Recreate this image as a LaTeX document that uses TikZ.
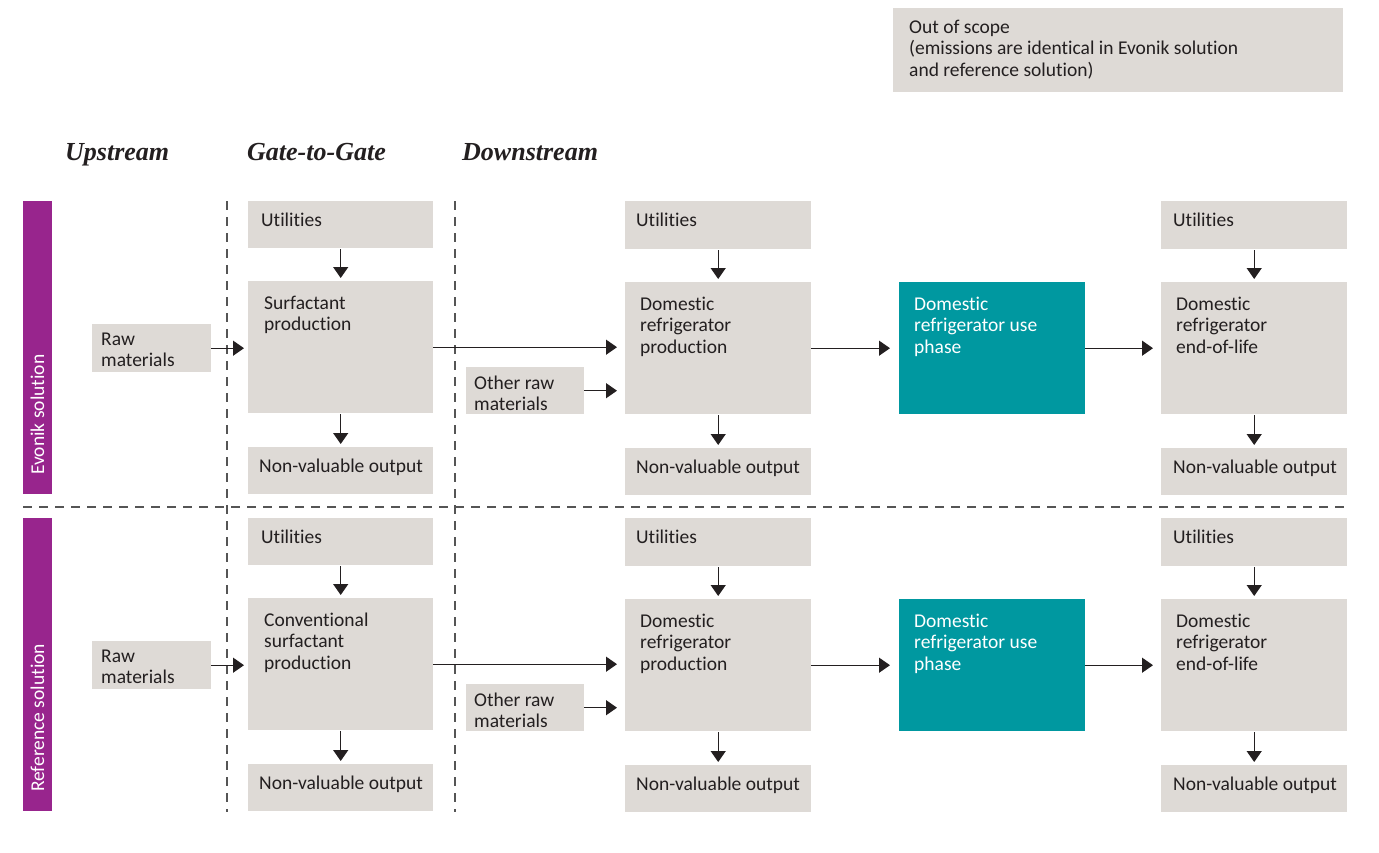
\documentclass[tikz,border=0pt]{standalone}
\usepackage{fontspec}
\setmainfont{Carlito}[Ligatures={CommonOff,ContextualOff,RequiredOff}, RawFeature={-liga;-clig;-rlig;-calt;-dlig}]
\newfontfamily\headfont{Liberation Serif}
\usetikzlibrary{arrows.meta}
\definecolor{boxgrey}{RGB}{222,218,214}
\definecolor{tealc}{RGB}{0,152,160}
\definecolor{purplec}{RGB}{152,37,141}
\definecolor{textc}{RGB}{35,31,32}
\definecolor{dashc}{RGB}{85,85,85}
\newcommand\bt[5]{\begin{minipage}[t][#2pt][t]{#1pt}\raggedright\leftskip=#3pt\relax\rule{0pt}{#4pt}#5\end{minipage}}
\tikzset{
  gbox/.style={fill=boxgrey, inner sep=0pt, anchor=north west, text=textc, font=\fontsize{19.5}{21.5}\selectfont},
  tbox/.style={fill=tealc, inner sep=0pt, anchor=north west, text=white, font=\fontsize{19.5}{21.5}\selectfont},
  bar/.style={fill=purplec, draw=none},
  barlabel/.style={rotate=90, anchor=west, inner sep=0pt, text=white, font=\fontsize{19.5}{21.5}\selectfont},
  arr/.style={draw=textc, line width=1.2pt, -{Triangle[length=11pt,width=15pt]}},
  sepline/.style={draw=dashc, line width=1.2pt, dash pattern=on 9pt off 7pt},
  head/.style={anchor=base west, inner sep=0pt, text=textc, font=\fontsize{26}{30}\headfont\bfseries\itshape}
}
\newcommand\drawrow[4]{%
  % #1 suffix, #2 y offset, #3 bar label, #4 gate-to-gate label
  \begin{scope}[yshift=-#2pt]
  \fill[bar] (23,201) rectangle (52,494);
  \node[barlabel] (lab#1) at (37.5,475) {#3};
  \node[gbox] (raw#1) at (92,324) {\bt{119}{48}{9}{21}{Raw\\materials}};
  \node[gbox] (ug#1) at (248,201) {\bt{185}{47}{13}{25}{Utilities}};
  \node[gbox] (pg#1) at (248,281) {\bt{185}{132}{16}{28}{#4}};
  \node[gbox] (ng#1) at (248,447) {\bt{185}{47}{11}{25}{Non-valuable output}};
  \node[gbox] (ud#1) at (625,201) {\bt{186}{48}{11}{25}{Utilities}};
  \node[gbox] (pd#1) at (625,282) {\bt{186}{132}{15}{28}{Domestic\\refrigerator\\production}};
  \node[gbox] (nd#1) at (625,448) {\bt{186}{47}{11}{25}{Non-valuable output}};
  \node[gbox] (oth#1) at (466,367) {\bt{118}{47}{8}{22}{Other raw\\materials}};
  \node[tbox] (use#1) at (899,282) {\bt{186}{132}{15}{28}{Domestic\\refrigerator use\\phase}};
  \node[gbox] (ue#1) at (1161,201) {\bt{186}{48}{12}{25}{Utilities}};
  \node[gbox] (pe#1) at (1161,282) {\bt{186}{132}{15}{28}{Domestic\\refrigerator\\end-of-life}};
  \node[gbox] (ne#1) at (1161,448) {\bt{186}{47}{12}{25}{Non-valuable output}};
  \draw[arr, shorten >=3pt, shorten <=1pt] (ug#1.south) -- (pg#1.north);
  \draw[arr, shorten >=3pt, shorten <=1pt] (pg#1.south) -- (ng#1.north);
  \draw[arr, shorten >=4pt] (raw#1.east) -- (raw#1.east -| pg#1.west);
  \draw[arr, shorten >=8pt] (pg#1.east) -- (pg#1.east -| pd#1.west);
  \draw[arr, shorten >=8pt] (oth#1.east) -- (oth#1.east -| pd#1.west);
  \draw[arr, shorten >=3pt, shorten <=1pt] (ud#1.south) -- (pd#1.north);
  \draw[arr, shorten >=3pt, shorten <=1pt] (pd#1.south) -- (nd#1.north);
  \draw[arr, shorten >=9pt] (pd#1.east) -- (use#1.west);
  \draw[arr, shorten >=8pt] (use#1.east) -- (pe#1.west);
  \draw[arr, shorten >=3pt, shorten <=1pt] (ue#1.south) -- (pe#1.north);
  \draw[arr, shorten >=3pt, shorten <=1pt] (pe#1.south) -- (ne#1.north);
  \end{scope}
}
\begin{document}
\begin{tikzpicture}[x=1pt,y=-1pt]
\useasboundingbox[fill=white] (0,0) rectangle (1379,852);
% out of scope legend
\node[gbox] (scope) at (893,8) {\bt{450}{84}{16}{25}{Out of scope\\(emissions are identical in Evonik solution\\and reference solution)}};
% headings
\node[head] (h1) at (65,160) {Upstream};
\node[head] (h2) at (247,160) {Gate-to-Gate};
\node[head] (h3) at (462,160) {Downstream};
% separators
\coordinate (v1t) at (227,201);
\coordinate (v1b) at (227,812);
\coordinate (v2t) at (455,201);
\coordinate (v2b) at (455,812);
\coordinate (hl) at (23,507);
\coordinate (hr) at (1346,507);
\draw[sepline] (v1t) -- (v1b);
\draw[sepline] (v2t) -- (v2b);
\draw[sepline] (hl) -- (hr);
% rows
\drawrow{a}{0}{Evonik solution}{Surfactant\\production}
\drawrow{b}{317}{Reference solution}{Conventional\\surfactant\\production}
\end{tikzpicture}
\end{document}
